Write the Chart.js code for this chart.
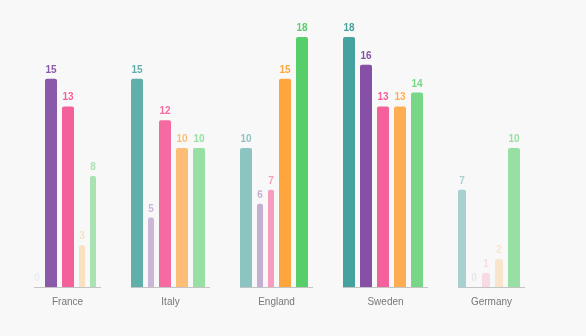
<!DOCTYPE html>
<html>
<head>
<meta charset="utf-8">
<title>Countries</title>
<script src="https://cdn.jsdelivr.net/npm/chart.js@4/dist/chart.umd.min.js"></script>
<style>
    html, body { margin: 0; padding: 0; background: #f8f8f8; }
    #holder { width: 586px; height: 336px; }
</style>
</head>
<body>
<div id="holder"><canvas id="countries" width="586" height="336"></canvas></div>
<script>
/* globals Chart */

var categories = ['France', 'Italy', 'England', 'Sweden', 'Germany'];
var seriesA = [0, 15, 10, 18, 7];
var seriesB = [15, 5, 6, 16, 0];
var seriesC = [13, 12, 7, 13, 1];
var seriesD = [3, 10, 15, 13, 2];
var seriesE = [8, 10, 18, 14, 10];

var baseColors = ['69,162,158', '120,61,156', '243,45,123', '255,150,28', '87,206,106'];
var allSeries = [seriesA, seriesB, seriesC, seriesD, seriesE];
var fontFamily = '"Liberation Sans", Arial, sans-serif';

var maxValue = 0;
allSeries.forEach(function (s) {
    s.forEach(function (v) { if (v > maxValue) { maxValue = v; } });
});

function barAlpha(v) {
    "use strict";
    return 0.1 + 0.9 * v / maxValue;
}

function barColor(d) {
    "use strict";
    return function (ctx) {
        var v = allSeries[d][ctx.dataIndex];
        return 'rgba(' + baseColors[d] + ',' + barAlpha(v) + ')';
    };
}

// bars in one country are packed side by side, wide ones for the big numbers
function barWidth(v, i) {
    "use strict";
    if (v >= 10) {
        return 12;
    }
    // the small bars of a country with low numbers are a bit wider
    var top = 0;
    allSeries.forEach(function (s) { if (s[i] > top) { top = s[i]; } });
    return top <= 10 && v > 0 ? 8 : 6;
}

var groupSpans = [];

var packedGroups = {
    id: 'packedGroups',
    afterDatasetsUpdate: function (chart) {
        "use strict";
        var gap = 5, groupGap = 30;
        var area = chart.chartArea;
        var x = area.left;
        groupSpans = [];
        for (var i = 0; i < categories.length; i++) {
            var start = x;
            for (var d = 0; d < allSeries.length; d++) {
                var bw = barWidth(allSeries[d][i], i);
                var bar = chart.getDatasetMeta(d).data[i];
                bar.x = x + bw / 2;
                bar.width = bw;
                x += bw + gap;
            }
            groupSpans.push([start, x]);
            x += groupGap;
        }
    },
    afterDatasetsDraw: function (chart) {
        "use strict";
        var ctx = chart.ctx;
        var bottom = chart.chartArea.bottom;
        ctx.save();
        // baseline under each country
        ctx.strokeStyle = '#c4c4c4';
        ctx.lineWidth = 1;
        groupSpans.forEach(function (span) {
            ctx.beginPath();
            ctx.moveTo(span[0], bottom + 0.5);
            ctx.lineTo(span[1], bottom + 0.5);
            ctx.stroke();
        });
        // country names
        ctx.fillStyle = '#777777';
        ctx.font = '10px ' + fontFamily;
        ctx.textAlign = 'center';
        ctx.textBaseline = 'alphabetic';
        groupSpans.forEach(function (span, i) {
            ctx.fillText(categories[i], (span[0] + span[1]) / 2, bottom + 18);
        });
        // values on top of the bars
        ctx.font = 'bold 10px ' + fontFamily;
        for (var d = 0; d < allSeries.length; d++) {
            var meta = chart.getDatasetMeta(d);
            meta.data.forEach(function (bar, i) {
                var v = allSeries[d][i];
                ctx.fillStyle = 'rgba(' + baseColors[d] + ',' + barAlpha(v) + ')';
                ctx.fillText(String(v), bar.x, bar.y - 6);
            });
        }
        ctx.restore();
    }
};

function drawChart() {
    "use strict";
    var ctx = document.getElementById('countries').getContext('2d');
    var datasets = [];
    for (var d = 0; d < allSeries.length; d++) {
        datasets.push({
            data: allSeries[d],
            backgroundColor: barColor(d),
            borderRadius: 2,
            borderSkipped: 'bottom'
        });
    }
    return new Chart(ctx, {
        type: 'bar',
        data: {labels: categories, datasets: datasets},
        options: {
            responsive: false,
            animation: false,
            layout: {padding: {top: 37, bottom: 49, left: 34, right: 0}},
            plugins: {legend: {display: false}, tooltip: {enabled: false}},
            scales: {
                x: {display: false},
                y: {display: false, min: 0, max: maxValue}
            }
        },
        plugins: [packedGroups]
    });
}

drawChart();
</script>
</body>
</html>
